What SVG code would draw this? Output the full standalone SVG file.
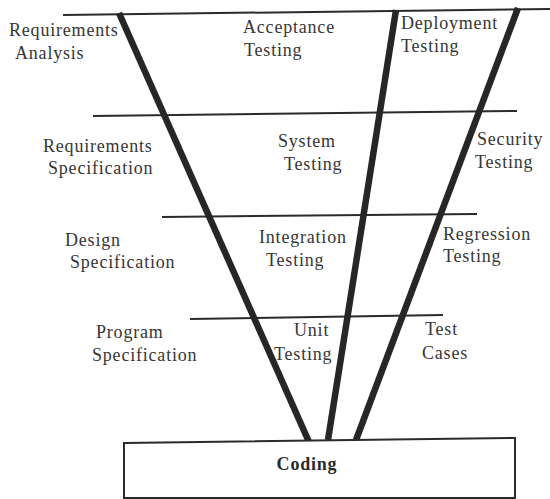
<svg xmlns="http://www.w3.org/2000/svg" width="550" height="499" viewBox="0 0 550 499">
  <style>
    .lbl { font-family: "Liberation Serif", "Times New Roman", serif; font-size: 18px; letter-spacing: 0.8px; fill: #363636; }
    .bold { font-weight: bold; fill: #2a2a2a; }
    .rule { stroke: #2b2b2b; stroke-width: 2; fill: none; }
    .beam { stroke: #262626; stroke-width: 6.5; fill: none; stroke-linecap: butt; }
    .box { fill: #ffffff; stroke: #2b2b2b; stroke-width: 2; }
  </style>
  <rect width="550" height="499" fill="#ffffff"/>

  <!-- level rules and the three beams -->
  <g id="connectors">
    <line class="rule" x1="63" y1="15" x2="550" y2="9"/>
    <line class="rule" x1="93" y1="116" x2="517" y2="111"/>
    <line class="rule" x1="162" y1="217" x2="477" y2="214"/>
    <line class="rule" x1="190" y1="319" x2="443" y2="315"/>
    <line class="beam" x1="119" y1="13" x2="309" y2="442"/>
    <line class="beam" x1="396" y1="10" x2="328" y2="440"/>
    <line class="beam" x1="518" y1="8" x2="356" y2="440"/>
  </g>

  <!-- left column: specification stages -->
  <g id="req-analysis">
    <text class="lbl" x="9" y="36">Requirements</text>
    <text class="lbl" x="15" y="59">Analysis</text>
  </g>
  <g id="req-spec">
    <text class="lbl" x="43" y="152">Requirements</text>
    <text class="lbl" x="48" y="174">Specification</text>
  </g>
  <g id="design-spec">
    <text class="lbl" x="65" y="246">Design</text>
    <text class="lbl" x="70" y="268">Specification</text>
  </g>
  <g id="program-spec">
    <text class="lbl" x="96" y="338">Program</text>
    <text class="lbl" x="92" y="361">Specification</text>
  </g>

  <!-- middle column: test levels -->
  <g id="acceptance">
    <text class="lbl" x="243" y="33">Acceptance</text>
    <text class="lbl" x="244" y="56">Testing</text>
  </g>
  <g id="system">
    <text class="lbl" x="278" y="147">System</text>
    <text class="lbl" x="284" y="170">Testing</text>
  </g>
  <g id="integration">
    <text class="lbl" x="259" y="243">Integration</text>
    <text class="lbl" x="266" y="266">Testing</text>
  </g>
  <g id="unit">
    <text class="lbl" x="294" y="336">Unit</text>
    <text class="lbl" x="274" y="360">Testing</text>
  </g>

  <!-- right column: further testing -->
  <g id="deployment">
    <text class="lbl" x="401" y="29">Deployment</text>
    <text class="lbl" x="401" y="52">Testing</text>
  </g>
  <g id="security">
    <text class="lbl" x="477" y="145">Security</text>
    <text class="lbl" x="475" y="168">Testing</text>
  </g>
  <g id="regression">
    <text class="lbl" x="443" y="240">Regression</text>
    <text class="lbl" x="443" y="262">Testing</text>
  </g>
  <g id="test-cases">
    <text class="lbl" x="425" y="335">Test</text>
    <text class="lbl" x="422" y="359">Cases</text>
  </g>

  <!-- base block -->
  <g id="coding">
    <path class="box" d="M124 443 L515 438 L515 498 L124 498 Z"/>
    <text class="lbl bold" x="307" y="470" text-anchor="middle">Coding</text>
  </g>
</svg>
